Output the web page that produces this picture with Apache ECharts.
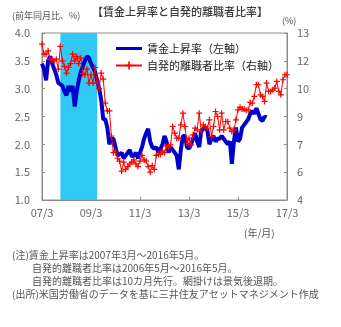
<!DOCTYPE html>
<html><head><meta charset="utf-8">
<script src="https://cdn.jsdelivr.net/npm/echarts@6/dist/echarts.min.js"></script>
<style>html,body{margin:0;padding:0;background:#fff}#c{width:341px;height:327px}</style>
</head><body><div id="c"></div>
<script>
// months from 2007-03 to 2017-03 (121 months)
var months = [];
for (var i = 0; i <= 120; i++) {
  var t = 2007 * 12 + 2 + i;
  var y = Math.floor(t / 12), m = t % 12 + 1;
  months.push(String(y).slice(2) + '/' + m);
}
// wage growth, % yoy, 2007-03..2016-05 (left axis)
var wage = [3.45,3.35,3.15,3.50,3.58,3.45,3.35,3.25,3.10,3.08,3.05,2.95,2.88,3.05,2.95,3.05,2.68,2.95,3.15,3.30,
  3.40,3.50,3.58,3.55,3.45,3.38,3.30,3.15,3.00,2.80,2.45,2.45,2.30,2.00,2.10,2.10,1.95,1.80,1.82,1.85,
  1.75,1.80,1.85,1.90,1.78,1.80,1.85,1.75,1.85,1.95,2.10,2.20,2.28,2.05,1.95,1.92,1.95,1.85,1.92,2.00,
  2.15,2.05,1.85,1.95,1.90,1.85,1.80,1.55,1.90,2.15,2.15,1.95,1.92,2.00,2.10,2.20,2.05,1.95,2.25,2.28,
  2.30,2.25,2.00,2.10,2.15,2.05,2.10,2.10,2.15,2.10,2.05,2.00,2.05,1.65,2.05,2.30,2.05,2.10,2.30,2.35,
  2.40,2.45,2.55,2.60,2.55,2.65,2.55,2.45,2.42,2.50,2.48];
// quit ratio, %, 2006-05..2016-05 shifted 10 months ahead (right axis)
var quits = [12.40,11.86,11.86,12.04,11.56,11.56,11.50,11.59,11.05,12.28,11.50,11.20,10.84,11.14,11.35,11.86,11.50,11.74,11.35,11.65,
  10.81,10.75,11.05,10.30,10.75,10.30,11.14,10.30,10.00,10.84,10.51,9.22,8.80,8.80,7.45,6.55,6.64,6.25,6.10,5.56,
  6.04,5.65,5.80,5.95,6.04,6.16,5.95,5.80,6.10,6.40,6.16,6.10,5.80,5.50,5.86,5.65,6.40,6.46,6.46,6.64,
  6.55,6.91,6.85,6.97,7.96,7.60,7.33,7.33,8.05,8.68,7.96,7.06,7.33,6.97,7.51,7.87,7.78,8.68,7.69,8.05,
  7.96,7.87,8.32,7.42,7.96,8.77,8.50,7.78,8.68,7.78,8.23,8.23,7.87,7.69,7.78,8.32,8.86,9.00,8.90,8.90,
  8.82,8.86,9.26,9.22,9.58,10.21,10.21,9.67,9.58,9.31,10.30,9.85,9.85,9.94,10.03,10.39,9.85,9.67,10.48,10.75,10.75];
var recession = ['07/12', '09/6'];
var rightTicks = [4, 5.5, 7, 8.5, 10, 11.5, 13];
var seriesNames = ['賃金上昇率（左軸）', '自発的離職者比率（右軸）'];
var notes = [
  '(注)賃金上昇率は2007年3月～2016年5月。',
  '　　自発的離職者比率は2006年5月～2016年5月。',
  '　　自発的離職者比率は10カ月先行。網掛けは景気後退期。',
  '(出所)米国労働省のデータを基に三井住友アセットマネジメント作成'
];

var FONT = '"Noto Sans CJK JP", sans-serif';
var chart = echarts.init(document.getElementById('c'), null, {renderer: 'canvas'});
var axisLineStyle = {color: '#8c8c8c', width: 1};
var graphics = [
  {type: 'text', left: 92, top: 6, style: {text: '【賃金上昇率と自発的離職者比率】', font: '500 11px ' + FONT, fill: '#3a3a3a'}},
  {type: 'text', left: 12, top: 11, style: {text: '(前年同月比、%)', font: '9px ' + FONT, fill: '#555'}},
  {type: 'text', left: 282, top: 16, style: {text: '(%)', font: '9px ' + FONT, fill: '#555'}},
  {type: 'text', left: 244, top: 228, style: {text: '(年/月)', font: '10px ' + FONT, fill: '#555'}}
];
notes.forEach(function (n, i) {
  graphics.push({type: 'text', left: 12, top: 250 + i * 13, style: {text: n, font: '10px ' + FONT, fill: '#555'}});
});
chart.setOption({
  animation: false,
  textStyle: {fontFamily: FONT},
  grid: {left: 42, right: 54, top: 33, bottom: 127, show: true, borderColor: '#8c8c8c', borderWidth: 1},
  legend: {
    orient: 'vertical', left: 110, top: 38, itemWidth: 26, itemHeight: 10, itemGap: 6,
    textStyle: {fontSize: 11, color: '#222', fontFamily: FONT},
    data: [
      {name: seriesNames[0], icon: 'path://M0,3.5H26V6.5H0Z', itemStyle: {color: '#0000cc'}},
      {name: seriesNames[1]}
    ]
  },
  graphic: graphics,
  xAxis: {
    type: 'category', data: months, boundaryGap: false,
    axisLine: {lineStyle: axisLineStyle},
    axisTick: {inside: true, interval: 23, length: 3, lineStyle: axisLineStyle},
    axisLabel: {interval: 23, color: '#666', fontSize: 11, margin: 7, showMaxLabel: true},
    splitLine: {show: false}
  },
  yAxis: [
    {type: 'value', min: 1, max: 4, interval: 0.5,
     axisLine: {show: true, lineStyle: axisLineStyle},
     axisTick: {show: true, inside: true, length: 3, lineStyle: axisLineStyle},
     axisLabel: {color: '#666', fontSize: 11, margin: 12, formatter: function (v) { return v.toFixed(1); }},
     splitLine: {show: false}},
    {type: 'value', min: 4, max: 13, position: 'right',
     axisLine: {show: true, lineStyle: axisLineStyle},
     axisTick: {show: true, inside: true, length: 3, lineStyle: axisLineStyle, customValues: rightTicks},
     axisLabel: {color: '#666', fontSize: 11, margin: 10, customValues: rightTicks, formatter: function (v) { return String(Math.round(v)); }},
     splitLine: {show: false}}
  ],
  series: [
    {name: seriesNames[0], type: 'line', yAxisIndex: 0, data: wage, symbol: 'none',
     lineStyle: {color: '#0000cc', width: 4}, itemStyle: {color: '#0000cc'},
     markArea: {silent: true, itemStyle: {color: '#30c8f5'}, data: [[{xAxis: recession[0]}, {xAxis: recession[1]}]]}},
    {name: seriesNames[1], type: 'line', yAxisIndex: 1, data: quits, showAllSymbol: true,
     symbol: 'path://M2,0H3V2H5V3H3V5H2V3H0V2H2Z', symbolSize: 6,
     lineStyle: {color: '#ff0000', width: 1}, itemStyle: {color: '#ff0000'}}
  ]
});
</script></body></html>
